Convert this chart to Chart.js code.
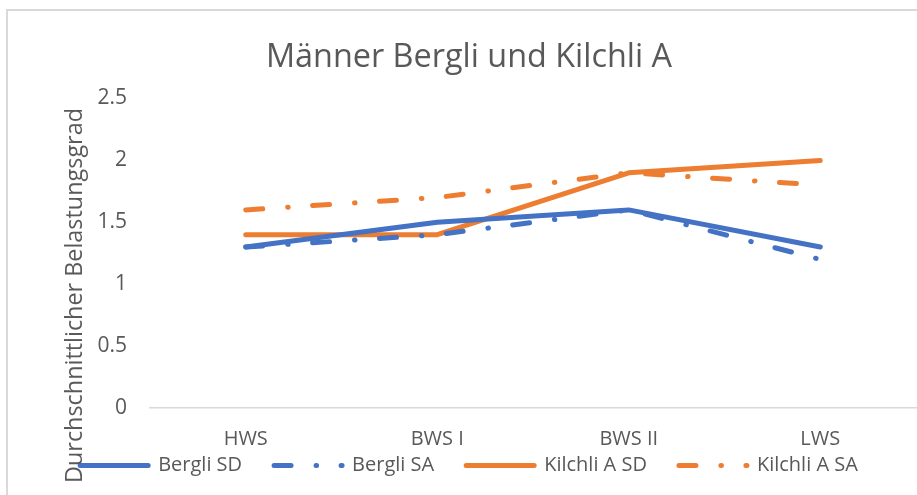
<!DOCTYPE html>
<html>
<head>
<meta charset="utf-8">
<title>Männer Bergli und Kilchli A</title>
<script src="https://cdn.jsdelivr.net/npm/chart.js@4/dist/chart.umd.min.js"></script>
<style>
  html, body { margin: 0; padding: 0; background: #fff; }
  #wrap { width: 917px; height: 495px; position: relative; }
</style>
</head>
<body>
<div id="wrap"><canvas id="belastungChart"></canvas></div>
<script>
// Erhebungszeitpunkte
const phases = ['HWS', 'BWS I', 'BWS II', 'LWS'];

// durchschnittlicher Belastungsgrad je Gruppe
const berglSD = [1.3, 1.5, 1.6, 1.3];
const berglSA = [1.3, 1.4, 1.6, 1.2];
const kilchliSD = [1.4, 1.4, 1.9, 2.0];
const kilchliSA = [1.6, 1.7, 1.9, 1.8];

const yTicks = [0, 0.5, 1, 1.5, 2, 2.5];

const BLUE = '#4472C4';
const ORANGE = '#ED7D31';
const TEXT = '#595959';
const FONT = "'Open Sans', sans-serif";

// long dash + dot, like the office "Langer Strich-Punkt" style
const dashDot = [17, 25, 0.5, 24.5];

function series(label, data, color, dash) {
  return {
    label: label,
    data: data,
    borderColor: color,
    backgroundColor: color,
    borderWidth: 5,
    borderDash: dash,
    borderCapStyle: 'round',
    borderJoinStyle: 'round',
    pointRadius: 0,
    pointHoverRadius: 0,
    tension: 0,
    fill: false
  };
}

// outer frame + rotated y title
const chartDecor = {
  id: 'chartDecor',
  beforeDraw(chart) {
    const ctx = chart.ctx;
    ctx.save();
    ctx.strokeStyle = '#d9d9d9';
    ctx.lineWidth = 2;
    ctx.strokeRect(7, 10, 1000, 1000);
    ctx.restore();
  },
  afterDraw(chart) {
    const ctx = chart.ctx;
    ctx.save();
    ctx.translate(82, 295.5);
    ctx.rotate(-Math.PI / 2);
    ctx.font = '23.4px ' + FONT;
    ctx.fillStyle = TEXT;
    ctx.textAlign = 'center';
    ctx.textBaseline = 'alphabetic';
    ctx.fillText('Durchschnittlicher Belastungsgrad', 0, 0);
    ctx.restore();
  }
};

// legend samples take dash/cap from the dataset line (point style would drop them);
// the gap between entries is widened with trailing spaces so the
// vertical legend padding can stay small
const defaultLabels = Chart.defaults.plugins.legend.labels.generateLabels;
function legendLabels(chart) {
  const items = defaultLabels(chart);
  return items.map((item, i) => {
    const ds = chart.data.datasets[item.datasetIndex];
    item.lineDash = ds.borderDash;
    item.lineCap = ds.borderCapStyle;
    item.lineWidth = ds.borderWidth;
    item.strokeStyle = ds.borderColor;
    if (i < items.length - 1) item.text = item.text + '     ';
    return item;
  });
}

const ctx = document.getElementById('belastungChart').getContext('2d');
new Chart(ctx, {
  type: 'line',
  data: {
    labels: phases,
    datasets: [
      series('Bergli SD', berglSD, BLUE, []),
      series('Bergli SA', berglSA, BLUE, dashDot),
      series('Kilchli A SD', kilchliSD, ORANGE, []),
      series('Kilchli A SA', kilchliSA, ORANGE, dashDot)
    ]
  },
  options: {
    responsive: true,
    maintainAspectRatio: false,
    animation: false,
    layout: {
      padding: { top: 0, left: 22, right: 1, bottom: 9.6 }
    },
    scales: {
      x: {
        offset: true,
        grid: { display: false, drawTicks: false },
        border: { display: true, color: '#d9d9d9', width: 1.5 },
        ticks: {
          color: TEXT,
          font: { family: FONT, size: 20 },
          padding: 19,
          maxRotation: 0
        },
        afterFit: s => { s.height = 41.4; }
      },
      y: {
        min: 0,
        max: 2.5,
        grid: { display: false, drawTicks: false },
        border: { display: false },
        afterBuildTicks: s => { s.ticks = yTicks.map(v => ({ value: v })); },
        ticks: {
          color: TEXT,
          font: { family: FONT, size: 21 },
          padding: 23,
          callback: v => String(v)
        },
        afterFit: s => { s.width = 128; }
      }
    },
    plugins: {
      title: {
        display: true,
        text: 'Männer Bergli und Kilchli A',
        color: TEXT,
        font: { family: FONT, size: 32.4, weight: 'normal' },
        padding: { top: 38, bottom: 21.6 }
      },
      legend: {
        position: 'bottom',
        labels: {
          color: TEXT,
          font: { family: FONT, size: 20 },
          usePointStyle: true,
          pointStyle: 'line',
          pointStyleWidth: 68,
          padding: 6,
          generateLabels: legendLabels
        }
      },
      tooltip: { enabled: false }
    }
  },
  plugins: [chartDecor]
});
</script>
</body>
</html>
